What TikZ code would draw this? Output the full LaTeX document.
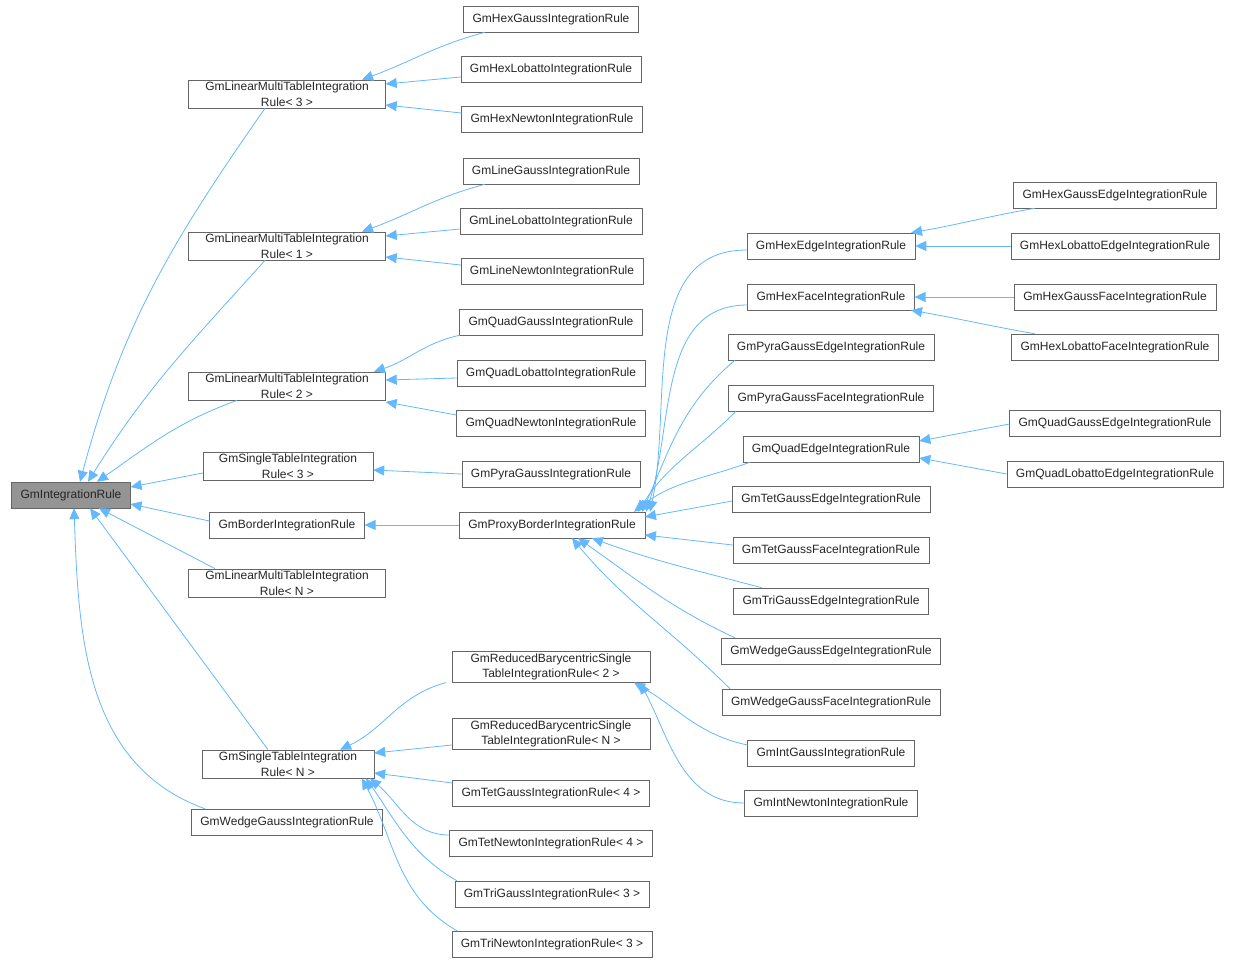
\documentclass[tikz,border=0pt]{standalone}
\usepackage{fontspec}
\setmainfont{Liberation Sans}
\usetikzlibrary{arrows.meta}
\definecolor{edgeblue}{HTML}{63B8FF}
\definecolor{boxgray}{HTML}{666666}
\tikzstyle{cls} = [rectangle,
draw=boxgray,
fill=white,
minimum height=26pt,
inner xsep=9pt,
inner ysep=2pt,
align=center,
font=\fontsize{12}{15.5}\selectfont,
text=black!85]
\tikzstyle{base} = [cls, fill=black!42]
\tikzstyle{arrow} = [edgeblue, line width=0.8pt, -{Triangle[length=11pt,width=10pt]}]

\begin{document}
\begin{tikzpicture}[x=1pt, y=1pt]
	\useasboundingbox (0,0) rectangle (1238,-964);
	% root and second column
	\node (ir) [base] at (71,-495) {GmIntegrationRule};
	\node (lmt3) [cls, minimum width=197pt] at (287,-94) {GmLinearMultiTableIntegration\\Rule< 3 >};
	\node (lmt1) [cls, minimum width=197pt] at (287,-246) {GmLinearMultiTableIntegration\\Rule< 1 >};
	\node (lmt2) [cls, minimum width=197pt] at (287,-386) {GmLinearMultiTableIntegration\\Rule< 2 >};
	\node (st3) [cls, minimum width=170pt] at (288,-466) {GmSingleTableIntegration\\Rule< 3 >};
	\node (border) [cls] at (287,-525) {GmBorderIntegrationRule};
	\node (lmtn) [cls, minimum width=197pt] at (287,-583) {GmLinearMultiTableIntegration\\Rule< N >};
	\node (stn) [cls, minimum width=172pt] at (288,-764) {GmSingleTableIntegration\\Rule< N >};
	\node (wedge) [cls] at (287,-822) {GmWedgeGaussIntegrationRule};
	% third column
	\node (hexg) [cls] at (551,-19) {GmHexGaussIntegrationRule};
	\node (hexl) [cls] at (551,-69) {GmHexLobattoIntegrationRule};
	\node (hexn) [cls] at (552,-119) {GmHexNewtonIntegrationRule};
	\node (lineg) [cls] at (551,-171) {GmLineGaussIntegrationRule};
	\node (linel) [cls] at (551,-221) {GmLineLobattoIntegrationRule};
	\node (linen) [cls] at (552,-271) {GmLineNewtonIntegrationRule};
	\node (quadg) [cls] at (551,-322) {GmQuadGaussIntegrationRule};
	\node (quadl) [cls] at (551,-373) {GmQuadLobattoIntegrationRule};
	\node (quadn) [cls] at (551,-423) {GmQuadNewtonIntegrationRule};
	\node (pyrag) [cls] at (551,-474) {GmPyraGaussIntegrationRule};
	\node (proxy) [cls] at (552,-525) {GmProxyBorderIntegrationRule};
	\node (rbs2) [cls, minimum width=198pt] at (551,-667) {GmReducedBarycentricSingle\\TableIntegrationRule< 2 >};
	\node (rbsn) [cls, minimum width=198pt] at (551,-734) {GmReducedBarycentricSingle\\TableIntegrationRule< N >};
	\node (tetg4) [cls] at (551,-793) {GmTetGaussIntegrationRule< 4 >};
	\node (tetn4) [cls] at (551,-843) {GmTetNewtonIntegrationRule< 4 >};
	\node (trig3) [cls] at (552,-894) {GmTriGaussIntegrationRule< 3 >};
	\node (trin3) [cls] at (552,-944) {GmTriNewtonIntegrationRule< 3 >};
	% fourth column
	\node (hexedge) [cls] at (831,-246) {GmHexEdgeIntegrationRule};
	\node (hexface) [cls] at (831,-297) {GmHexFaceIntegrationRule};
	\node (pyraedge) [cls] at (831,-347) {GmPyraGaussEdgeIntegrationRule};
	\node (pyraface) [cls] at (831,-398) {GmPyraGaussFaceIntegrationRule};
	\node (quadedge) [cls] at (831,-449) {GmQuadEdgeIntegrationRule};
	\node (tetedge) [cls] at (831,-499) {GmTetGaussEdgeIntegrationRule};
	\node (tetface) [cls] at (831,-550) {GmTetGaussFaceIntegrationRule};
	\node (triedge) [cls] at (831,-601) {GmTriGaussEdgeIntegrationRule};
	\node (wedgeedge) [cls] at (831,-651) {GmWedgeGaussEdgeIntegrationRule};
	\node (wedgeface) [cls] at (831,-702) {GmWedgeGaussFaceIntegrationRule};
	\node (intg) [cls] at (831,-753) {GmIntGaussIntegrationRule};
	\node (intn) [cls] at (831,-803) {GmIntNewtonIntegrationRule};
	% fifth column
	\node (hexgedge) [cls] at (1115,-195) {GmHexGaussEdgeIntegrationRule};
	\node (hexledge) [cls] at (1115,-246) {GmHexLobattoEdgeIntegrationRule};
	\node (hexgface) [cls] at (1115,-297) {GmHexGaussFaceIntegrationRule};
	\node (hexlface) [cls] at (1115,-347) {GmHexLobattoFaceIntegrationRule};
	\node (quadgedge) [cls] at (1115,-423) {GmQuadGaussEdgeIntegrationRule};
	\node (quadledge) [cls] at (1115,-474) {GmQuadLobattoEdgeIntegrationRule};

	% into the root
	\draw[arrow] ([xshift=-22pt]lmt3.south) to[out=235,in=75] ([xshift=9pt]ir.north);
	\draw[arrow] ([xshift=-22pt]lmt1.south) to[out=228,in=58] ([xshift=17pt]ir.north);
	\draw[arrow] ([xshift=-50pt]lmt2.south) to[out=200,in=35] ([xshift=26pt]ir.north);
	\draw[arrow] ([yshift=-7pt]st3.west) -- ([yshift=8pt]ir.east);
	\draw[arrow] ([yshift=4pt]border.west) -- ([yshift=-9pt]ir.east);
	\draw[arrow] ([xshift=-72pt]lmtn.north) -- ([xshift=28pt]ir.south);
	\draw[arrow] ([xshift=-20pt]stn.north) -- ([xshift=19pt]ir.south);
	\draw[arrow] ([xshift=-82pt]wedge.north) to[out=160,in=272] ([xshift=3pt]ir.south);
	% into the second column
	\draw[arrow] ([xshift=-66pt]hexg.south) to[out=195,in=20] ([xshift=75pt]lmt3.north);
	\draw[arrow] ([yshift=-8pt]hexl.west) -- ([yshift=10pt]lmt3.east);
	\draw[arrow] ([yshift=6pt]hexn.west) -- ([yshift=-11pt]lmt3.east);
	\draw[arrow] ([xshift=-66pt]lineg.south) to[out=195,in=20] ([xshift=75pt]lmt1.north);
	\draw[arrow] ([yshift=-8pt]linel.west) -- ([yshift=10pt]lmt1.east);
	\draw[arrow] ([yshift=6pt]linen.west) -- ([yshift=-11pt]lmt1.east);
	\draw[arrow] ([xshift=-91pt]quadg.south) to[out=192,in=18] ([xshift=87pt]lmt2.north);
	\draw[arrow] ([yshift=-5pt]quadl.west) -- ([yshift=6pt]lmt2.east);
	\draw[arrow] ([yshift=8pt]quadn.west) -- ([yshift=-16pt]lmt2.east);
	\draw[arrow] (pyrag.west) -- ([yshift=-4pt]st3.east);
	\draw[arrow] (proxy) -- (border);
	\draw[arrow] ([xshift=-105pt]rbs2.south) to[out=195,in=25] ([xshift=52pt]stn.north);
	\draw[arrow] ([yshift=-11pt]rbsn.west) -- ([yshift=11pt]stn.east);
	\draw[arrow] ([yshift=10pt]tetg4.west) -- ([yshift=-9pt]stn.east);
	\draw[arrow] ([yshift=8pt]tetn4.west) to[out=180,in=-40] ([xshift=82pt]stn.south);
	\draw[arrow] ([xshift=-95pt]trig3.north) to[out=150,in=-55] ([xshift=78pt]stn.south);
	\draw[arrow] ([xshift=-95pt]trin3.north) to[out=150,in=-62] ([xshift=74pt]stn.south);
	% into the proxy
	\draw[arrow] ([yshift=-4pt]hexedge.west) to[out=180,in=78] ([xshift=98pt]proxy.north);
	\draw[arrow] ([yshift=-8pt]hexface.west) to[out=180,in=72] ([xshift=94pt]proxy.north);
	\draw[arrow] ([xshift=-96pt]pyraedge.south) to[out=220,in=66] ([xshift=90pt]proxy.north);
	\draw[arrow] ([xshift=-95pt]pyraface.south) to[out=225,in=58] ([xshift=86pt]proxy.north);
	\draw[arrow] ([xshift=-81pt]quadedge.south) to[out=200,in=38] ([xshift=82pt]proxy.north);
	\draw[arrow] ([yshift=-2pt]tetedge.west) -- ([yshift=8pt]proxy.east);
	\draw[arrow] ([yshift=5pt]tetface.west) -- ([yshift=-10pt]proxy.east);
	\draw[arrow] ([xshift=-69pt]triedge.north) to[out=165,in=-20] ([xshift=40pt]proxy.south);
	\draw[arrow] ([xshift=-96pt]wedgeedge.north) to[out=155,in=-35] ([xshift=26pt]proxy.south);
	\draw[arrow] ([xshift=-101pt]wedgeface.north) to[out=135,in=-50] ([xshift=20pt]proxy.south);
	% fourth and fifth column
	\draw[arrow] ([xshift=-80pt]hexgedge.south) to[out=190,in=10] ([xshift=80pt]hexedge.north);
	\draw[arrow] (hexledge) -- (hexedge);
	\draw[arrow] (hexgface) -- (hexface);
	\draw[arrow] ([xshift=-80pt]hexlface.north) to[out=170,in=-10] ([xshift=80pt]hexface.south);
	\draw[arrow] ([yshift=-1pt]quadgedge.west) -- ([yshift=8pt]quadedge.east);
	\draw[arrow] (quadledge.west) -- ([yshift=-9pt]quadedge.east);
	\draw[arrow] ([yshift=8pt]intg.west) to[out=168,in=-30] ([xshift=83pt]rbs2.south);
	\draw[arrow] (intn.west) to[out=180,in=-62] ([xshift=89pt]rbs2.south);
\end{tikzpicture}
\end{document}
